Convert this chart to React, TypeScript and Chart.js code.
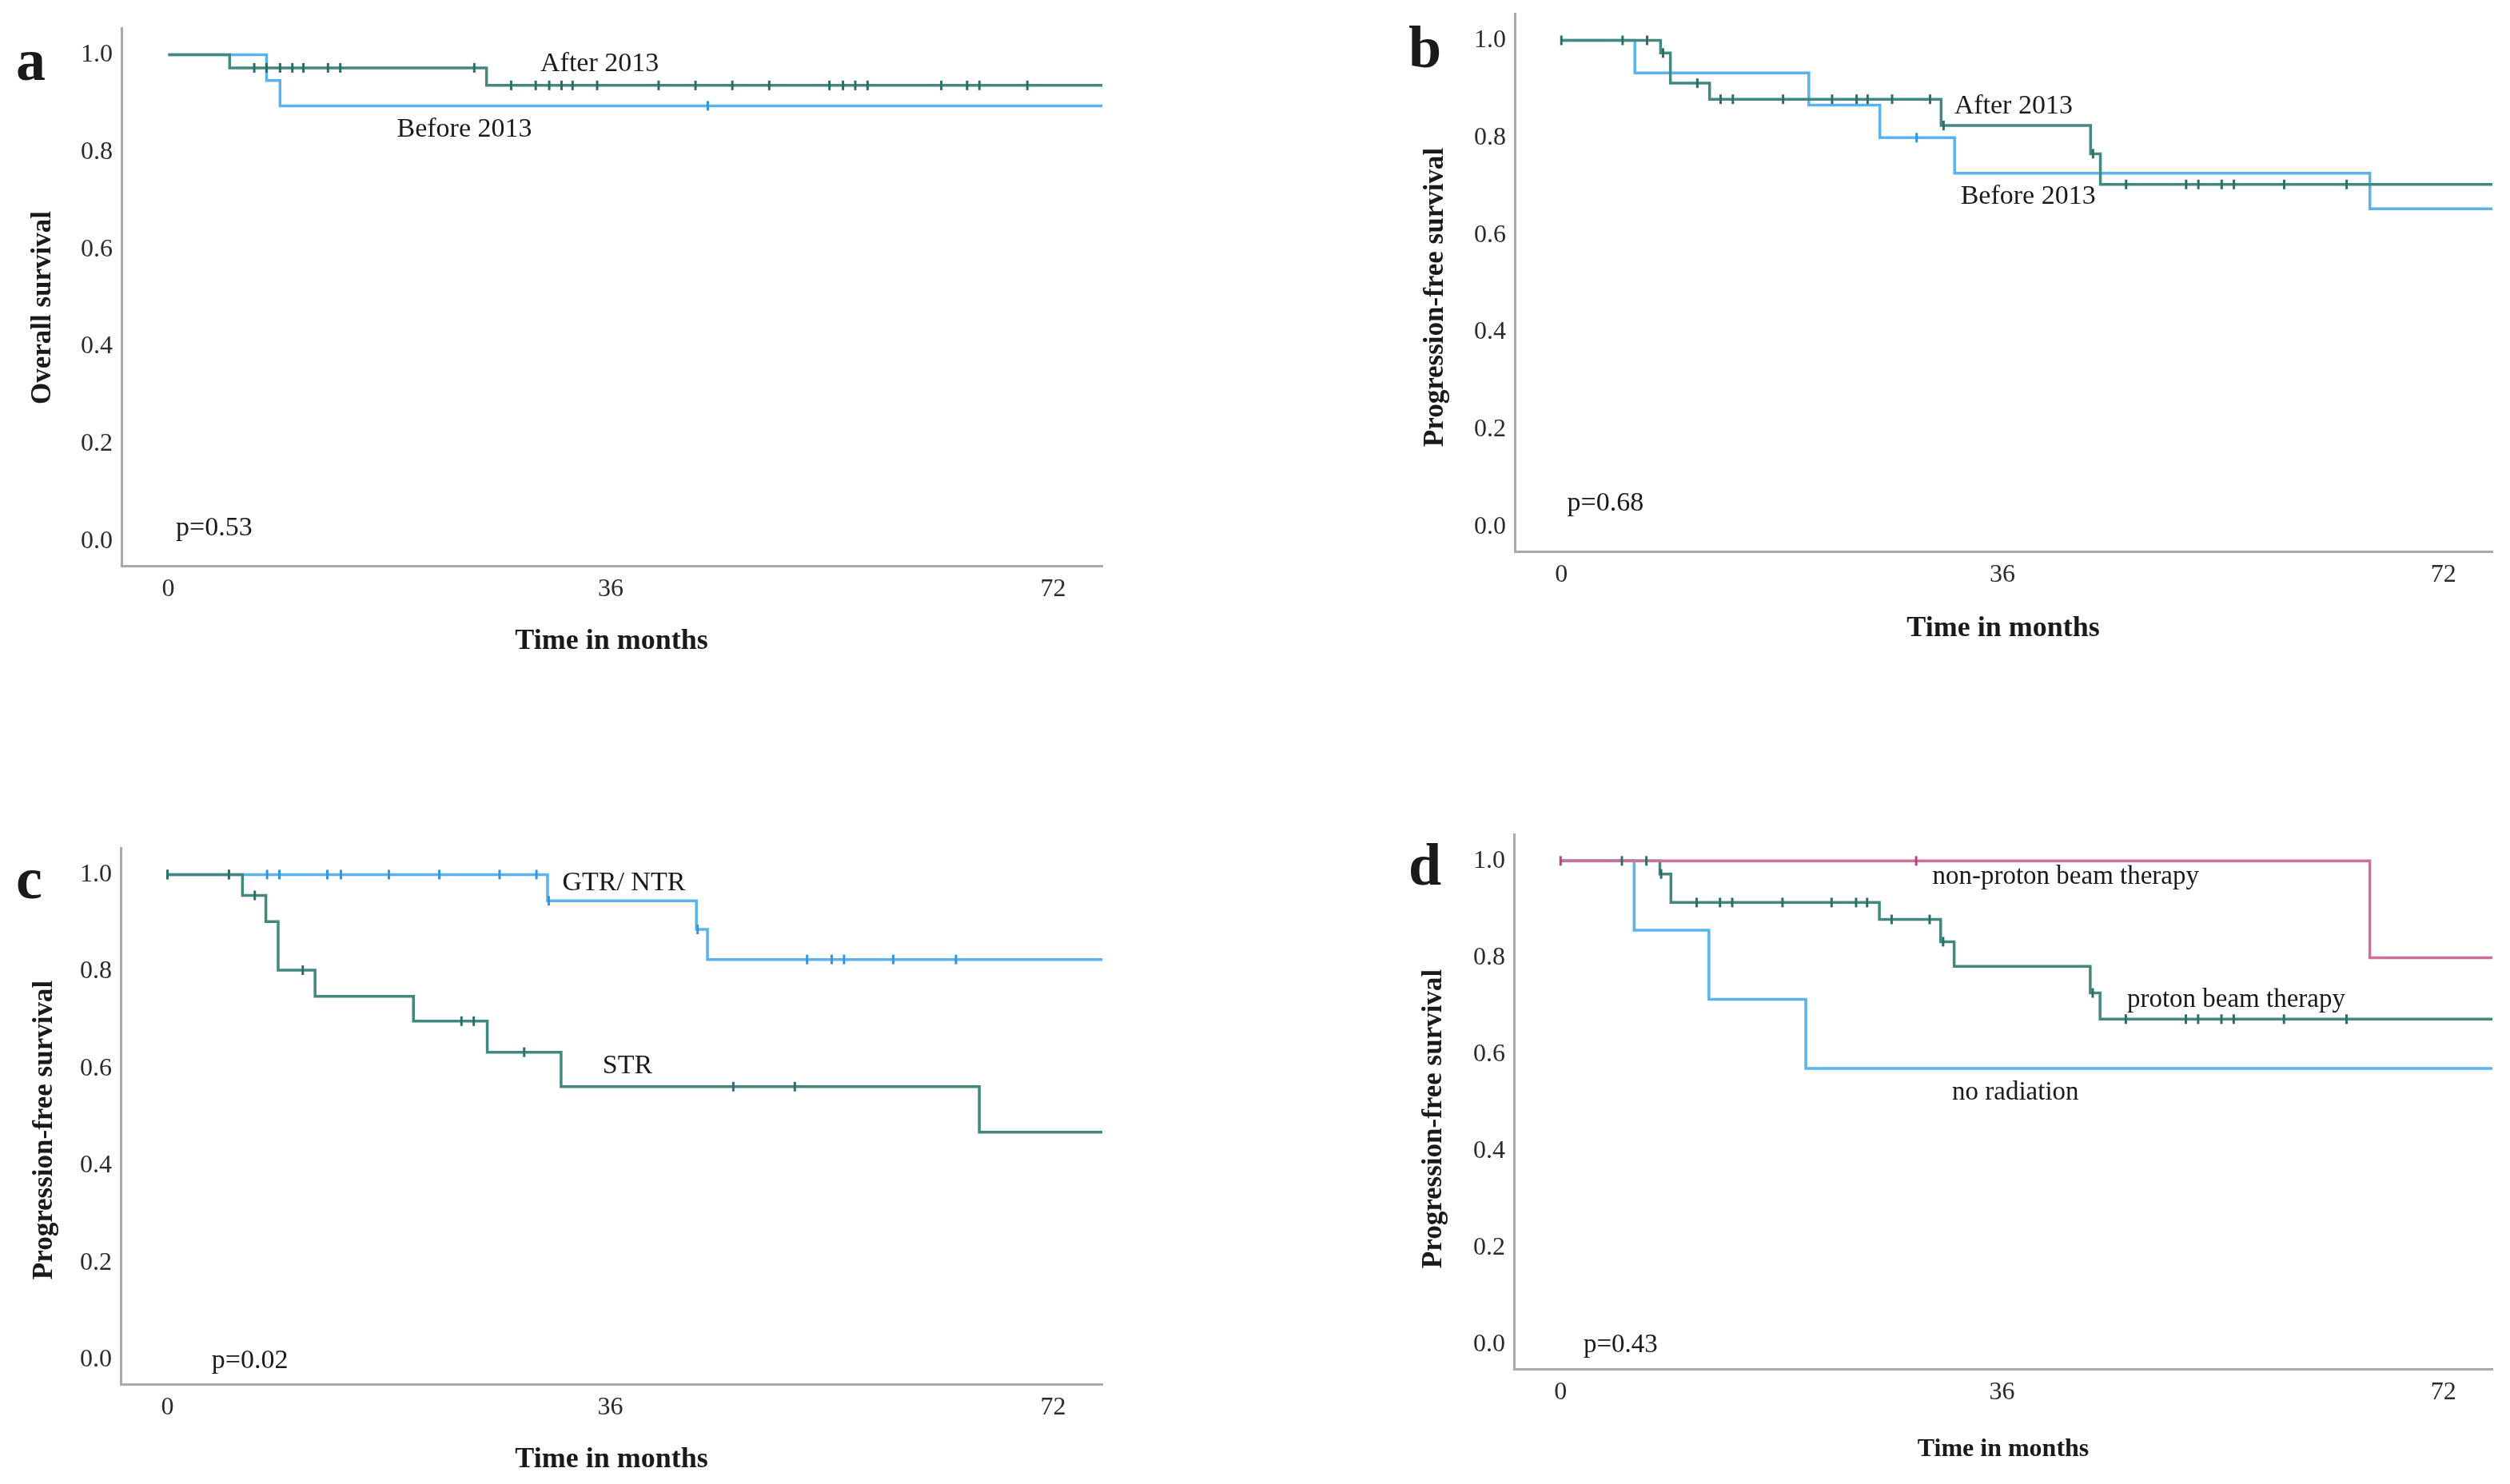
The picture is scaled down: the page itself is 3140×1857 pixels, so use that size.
import React, { useEffect, useRef } from 'react';
import { Chart, registerables } from 'chart.js';
Chart.register(...registerables);

const FONT = '"Liberation Serif", "Times New Roman", serif';
const XMIN = -3.8;
const XMAX = 76;
const YMIN = -0.05;
const YMAX = 1.055;
const X_TICKS = [0, 36, 72];
const Y_TICKS = [0, 0.2, 0.4, 0.6, 0.8, 1.0];

const TEAL = '#43887f';
const TEAL_MARK = '#2c6f67';
const BLUE = '#5ab2ee';
const BLUE_MARK = '#3596de';
const PINK = '#d06f9c';
const PINK_MARK = '#b8457d';

// ---- Panel a: overall survival ----
const aAfterTimes = [5.0, 25.9];
const aAfterSurv = [0.973, 0.937];
const aAfterCensor = [7.0, 8.0, 9.1, 10.1, 11.0, 13.0, 14.0, 24.9, 27.9, 29.9, 31.0, 32.0, 32.9, 34.9, 39.9, 42.9, 45.9, 48.9, 53.8, 54.9, 55.9, 56.9, 62.9, 65.0, 66.0, 69.9];
const aBeforeTimes = [8.0, 9.1];
const aBeforeSurv = [0.947, 0.895];
const aBeforeCensor = [43.9];

// ---- Panel b: PFS by period ----
const bAfterTimes = [8.1, 8.9, 12.1, 31.0, 43.2, 44.0];
const bAfterSurv = [0.974, 0.912, 0.879, 0.825, 0.767, 0.704];
const bAfterCensor = [0, 5.0, 7.0, 8.3, 11.1, 13.0, 14.0, 18.1, 22.1, 24.1, 25.0, 27.0, 30.1, 31.2, 43.4, 46.1, 51.0, 52.0, 53.9, 54.9, 59.0, 64.1];
const bBeforeTimes = [6.0, 20.2, 26.0, 32.1, 66.0];
const bBeforeSurv = [0.933, 0.867, 0.8, 0.727, 0.654];
const bBeforeCensor = [29.0];

// ---- Panel c: PFS by resection ----
const cGtrTimes = [30.9, 43.0, 43.9];
const cGtrSurv = [0.946, 0.887, 0.825];
const cGtrCensor = [0, 5.0, 8.1, 9.1, 13.0, 14.1, 18.0, 22.1, 27.0, 30.0, 31.0, 43.1, 52.0, 54.0, 55.0, 59.0, 64.1];
const cStrTimes = [6.1, 8.0, 9.0, 12.0, 20.0, 26.0, 32.0, 66.0];
const cStrSurv = [0.957, 0.903, 0.803, 0.749, 0.698, 0.634, 0.563, 0.469];
const cStrCensor = [0, 5.0, 7.1, 11.0, 23.9, 24.9, 29.0, 46.0, 51.0];

// ---- Panel d: PFS by radiation ----
const dNonTimes = [66.0];
const dNonSurv = [0.8];
const dNonCensor = [0, 29.0];
const dProtonTimes = [8.1, 9.0, 26.0, 31.0, 32.1, 43.2, 44.0];
const dProtonSurv = [0.973, 0.914, 0.879, 0.833, 0.782, 0.727, 0.673];
const dProtonCensor = [5.0, 7.0, 8.2, 11.1, 13.0, 14.0, 18.1, 22.1, 24.1, 25.0, 27.0, 30.1, 31.2, 43.4, 46.1, 51.0, 52.0, 53.9, 54.9, 59.0, 64.1];
const dNoRadTimes = [6.0, 12.1, 20.0];
const dNoRadSurv = [0.857, 0.714, 0.571];
const dNoRadCensor: number[] = [];

type Series = { times: number[]; surv: number[]; censor: number[]; color: string; mark: string };
type Ann = { text: string; x: number; y: number };
type Panel = {
  box: { left: number; top: number; width: number; height: number };
  area: { left: number; right: number; top: number; bottom: number };
  letter: string;
  letterPos: [number, number];
  yTitle: string;
  yTitlePos: [number, number];
  yTitleSize: number;
  xTitlePos: [number, number];
  xTitleSize: number;
  annSize: number;
  series: Series[];
  anns: Ann[];
};

const PANELS: Panel[] = [
  {
    box: { left: 0, top: 0, width: 1390, height: 870 },
    area: { left: 152, right: 1379, top: 35, bottom: 708 },
    letter: 'a', letterPos: [20, 100],
    yTitle: 'Overall survival', yTitlePos: [54, 385], yTitleSize: 35,
    xTitlePos: [765, 812], xTitleSize: 36, annSize: 34,
    series: [
      { times: aAfterTimes, surv: aAfterSurv, censor: aAfterCensor, color: TEAL, mark: TEAL_MARK },
      { times: aBeforeTimes, surv: aBeforeSurv, censor: aBeforeCensor, color: BLUE, mark: BLUE_MARK },
    ],
    anns: [
      { text: 'After 2013', x: 35.1, y: 0.966 },
      { text: 'Before 2013', x: 24.1, y: 0.831 },
      { text: 'p=0.53', x: 3.74, y: 0.013 },
    ],
  },
  {
    box: { left: 1570, top: 0, width: 1570, height: 870 },
    area: { left: 1895, right: 3118, top: 17, bottom: 690 },
    letter: 'b', letterPos: [1762, 84],
    yTitle: 'Progression-free survival', yTitlePos: [1796, 372], yTitleSize: 35,
    xTitlePos: [2506, 796], xTitleSize: 36, annSize: 34,
    series: [
      { times: bAfterTimes, surv: bAfterSurv, censor: bAfterCensor, color: TEAL, mark: TEAL_MARK },
      { times: bBeforeTimes, surv: bBeforeSurv, censor: bBeforeCensor, color: BLUE, mark: BLUE_MARK },
    ],
    anns: [
      { text: 'After 2013', x: 36.9, y: 0.85 },
      { text: 'Before 2013', x: 38.1, y: 0.665 },
      { text: 'p=0.68', x: 3.6, y: 0.033 },
    ],
  },
  {
    box: { left: 0, top: 930, width: 1390, height: 927 },
    area: { left: 151, right: 1379, top: 1061, bottom: 1732 },
    letter: 'c', letterPos: [20, 1124],
    yTitle: 'Progression-free survival', yTitlePos: [56, 1414], yTitleSize: 35,
    xTitlePos: [765, 1836], xTitleSize: 36, annSize: 34,
    series: [
      { times: cStrTimes, surv: cStrSurv, censor: cStrCensor, color: TEAL, mark: TEAL_MARK },
      { times: cGtrTimes, surv: cGtrSurv, censor: cGtrCensor, color: BLUE, mark: BLUE_MARK },
    ],
    anns: [
      { text: 'GTR/ NTR', x: 37.1, y: 0.967 },
      { text: 'STR', x: 37.4, y: 0.591 },
      { text: 'p=0.02', x: 6.7, y: -0.017 },
    ],
  },
  {
    box: { left: 1570, top: 930, width: 1570, height: 927 },
    area: { left: 1894, right: 3118, top: 1044, bottom: 1713 },
    letter: 'd', letterPos: [1762, 1107],
    yTitle: 'Progression-free survival', yTitlePos: [1794, 1400], yTitleSize: 35,
    xTitlePos: [2506, 1822], xTitleSize: 32, annSize: 33,
    series: [
      { times: dNonTimes, surv: dNonSurv, censor: dNonCensor, color: PINK, mark: PINK_MARK },
      { times: dProtonTimes, surv: dProtonSurv, censor: dProtonCensor, color: TEAL, mark: TEAL_MARK },
      { times: dNoRadTimes, surv: dNoRadSurv, censor: dNoRadCensor, color: BLUE, mark: BLUE_MARK },
    ],
    anns: [
      { text: 'non-proton beam therapy', x: 41.2, y: 0.952 },
      { text: 'proton beam therapy', x: 55.1, y: 0.698 },
      { text: 'no radiation', x: 37.1, y: 0.507 },
      { text: 'p=0.43', x: 4.9, y: -0.015 },
    ],
  },
];

function survAt(times: number[], surv: number[], t: number): number {
  let s = 1;
  for (let i = 0; i < times.length; i++) {
    if (times[i] <= t) s = surv[i];
  }
  return s;
}

function buildDatasets(series: Series[]) {
  const lines: any[] = [];
  const marks: any[] = [];
  series.forEach((s) => {
    const pts = [{ x: 0, y: 1 }];
    s.times.forEach((t, i) => pts.push({ x: t, y: s.surv[i] }));
    pts.push({ x: XMAX, y: s.surv.length ? s.surv[s.surv.length - 1] : 1 });
    lines.push({
      type: 'line',
      data: pts,
      stepped: true,
      borderColor: s.color,
      borderWidth: 3.5,
      pointRadius: 0,
      fill: false,
    });
    marks.push({
      type: 'scatter',
      data: s.censor.map((t) => ({ x: t, y: survAt(s.times, s.surv, t) })),
      showLine: false,
      pointStyle: 'line',
      rotation: 90,
      pointRadius: 6,
      borderWidth: 3,
      borderColor: s.mark,
      backgroundColor: s.mark,
    });
  });
  return [...marks, ...lines];
}

function PanelChart({ panel }: { panel: Panel }) {
  const ref = useRef<HTMLCanvasElement | null>(null);
  useEffect(() => {
    if (!ref.current) return;
    const p = panel;
    const yWidth = p.area.left - p.box.left;
    const xHeight = p.box.top + p.box.height - p.area.bottom;
    const padTop = p.area.top - p.box.top;
    const padRight = p.box.left + p.box.width - p.area.right;
    const textPlugin = {
      id: 'panelText',
      afterDraw(chart: any) {
        const ctx = chart.ctx;
        const xs = chart.scales.x;
        const ys = chart.scales.y;
        ctx.save();
        ctx.fillStyle = '#1a1a1a';
        ctx.textBaseline = 'alphabetic';
        ctx.font = `bold 74px ${FONT}`;
        ctx.textAlign = 'left';
        ctx.fillText(p.letter, p.letterPos[0] - p.box.left, p.letterPos[1] - p.box.top);
        ctx.font = `bold ${p.xTitleSize}px ${FONT}`;
        ctx.textAlign = 'center';
        ctx.fillText('Time in months', p.xTitlePos[0] - p.box.left, p.xTitlePos[1] - p.box.top);
        ctx.save();
        ctx.translate(p.yTitlePos[0] - p.box.left, p.yTitlePos[1] - p.box.top);
        ctx.rotate(-Math.PI / 2);
        ctx.font = `bold ${p.yTitleSize}px ${FONT}`;
        ctx.textAlign = 'center';
        ctx.textBaseline = 'middle';
        ctx.fillText(p.yTitle, 0, 0);
        ctx.restore();
        ctx.font = `${p.annSize}px ${FONT}`;
        ctx.textAlign = 'center';
        ctx.textBaseline = 'alphabetic';
        p.anns.forEach((a) => {
          ctx.fillText(a.text, xs.getPixelForValue(a.x), ys.getPixelForValue(a.y));
        });
        ctx.restore();
      },
    };
    const chart = new Chart(ref.current, {
      type: 'line',
      data: { datasets: buildDatasets(p.series) as any },
      options: {
        animation: false,
        responsive: false,
        devicePixelRatio: 1,
        layout: { padding: { left: 0, top: padTop, right: padRight, bottom: 0 } },
        plugins: { legend: { display: false }, tooltip: { enabled: false } },
        scales: {
          x: {
            type: 'linear',
            min: XMIN,
            max: XMAX,
            afterBuildTicks: (s: any) => {
              s.ticks = X_TICKS.map((v) => ({ value: v }));
            },
            afterFit: (s: any) => {
              s.height = xHeight;
              s.paddingLeft = 0;
              s.paddingRight = 0;
            },
            ticks: {
              font: { family: FONT, size: 32 },
              color: '#2a2a2a',
              padding: 10,
              maxRotation: 0,
              autoSkip: false,
              callback: (v: any) => String(v),
            },
            grid: { display: false, drawTicks: false },
            border: { display: true, color: '#a9a9a9', width: 3 },
          },
          y: {
            type: 'linear',
            min: YMIN,
            max: YMAX,
            afterBuildTicks: (s: any) => {
              s.ticks = Y_TICKS.map((v) => ({ value: v }));
            },
            afterFit: (s: any) => {
              s.width = yWidth;
              s.paddingTop = 0;
              s.paddingBottom = 0;
            },
            ticks: {
              font: { family: FONT, size: 32 },
              color: '#2a2a2a',
              padding: 11,
              autoSkip: false,
              callback: (v: any) => Number(v).toFixed(1),
            },
            grid: { display: false, drawTicks: false },
            border: { display: true, color: '#a9a9a9', width: 3 },
          },
        },
      },
      plugins: [textPlugin],
    });
    return () => chart.destroy();
  }, [panel]);
  return (
    <canvas
      ref={ref}
      width={panel.box.width}
      height={panel.box.height}
      style={{ position: 'absolute', left: panel.box.left, top: panel.box.top, width: panel.box.width, height: panel.box.height }}
    />
  );
}

export default function App() {
  return (
    <div style={{ position: 'absolute', left: 0, top: 0, width: 3140, height: 1857, background: '#ffffff', overflow: 'hidden' }}>
      {PANELS.map((p, i) => (
        <PanelChart key={i} panel={p} />
      ))}
    </div>
  );
}
